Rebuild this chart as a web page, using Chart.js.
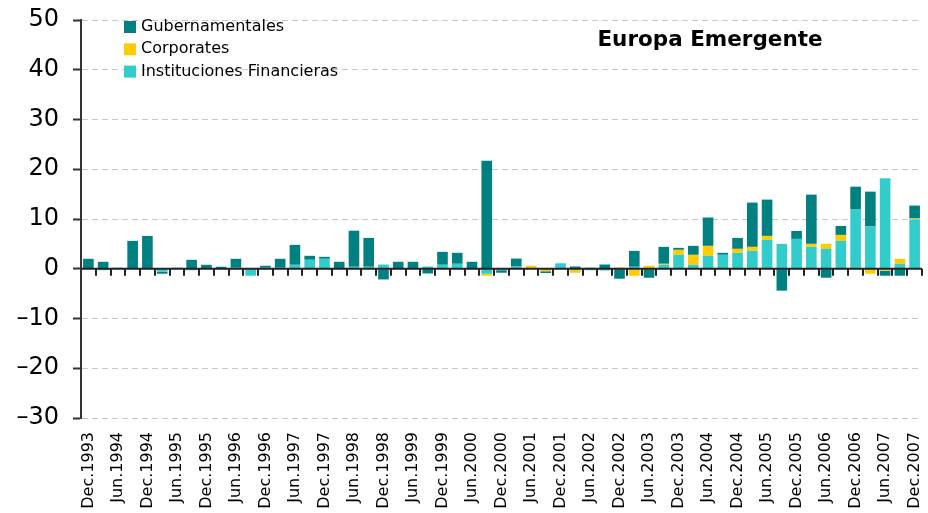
<!DOCTYPE html>
<html>
<head>
<meta charset="utf-8">
<script src="https://cdn.jsdelivr.net/npm/chart.js@4.4.1/dist/chart.umd.min.js"></script>
<style>
  html, body { margin: 0; padding: 0; background: #fff; }
  #wrap { width: 928px; height: 513px; }
</style>
</head>
<body>
<div id="wrap"><canvas id="chart" width="928" height="513"></canvas></div>
<script>
// trimestres (se rotula uno de cada dos)
const categories = [
  "Dec.1993",
  "Mar.1994", "Jun.1994", "Sep.1994", "Dec.1994",
  "Mar.1995", "Jun.1995", "Sep.1995", "Dec.1995",
  "Mar.1996", "Jun.1996", "Sep.1996", "Dec.1996",
  "Mar.1997", "Jun.1997", "Sep.1997", "Dec.1997",
  "Mar.1998", "Jun.1998", "Sep.1998", "Dec.1998",
  "Mar.1999", "Jun.1999", "Sep.1999", "Dec.1999",
  "Mar.2000", "Jun.2000", "Sep.2000", "Dec.2000",
  "Mar.2001", "Jun.2001", "Sep.2001", "Dec.2001",
  "Mar.2002", "Jun.2002", "Sep.2002", "Dec.2002",
  "Mar.2003", "Jun.2003", "Sep.2003", "Dec.2003",
  "Mar.2004", "Jun.2004", "Sep.2004", "Dec.2004",
  "Mar.2005", "Jun.2005", "Sep.2005", "Dec.2005",
  "Mar.2006", "Jun.2006", "Sep.2006", "Dec.2006",
  "Mar.2007", "Jun.2007", "Sep.2007", "Dec.2007"
];

const gubernamentales = [
  2.0, 1.4, 0.2, 5.6, 6.6, -0.4, 0.2, 1.8, 0.8, 0.4,
  1.8, 0, 0.4, 1.8, 4.0, 0.8, 0.4, 1.4, 7.25, 5.8,
  -2.15, 1.4, 1.4, -0.95, 2.6, 2.2, 1.4, 21.7, -0.5, 1.6,
  0, -0.35, 0, 0.45, 0.2, 0.85, -2.0, 3.2, -1.8, 3.4,
  0.4, 1.8, 5.7, 0.4, 2.2, 8.9, 7.3, -4.4, 1.6, 9.9,
  -1.8, 1.8, 4.6, 7.0, -1.0, -1.4, 2.6
];
const corporates = [
  0, 0, 0, 0, 0, 0, 0, 0, 0, 0,
  0, 0, 0, 0, 0, 0, 0, 0, 0, 0,
  0, 0, 0, 0, 0, 0, 0, -0.4, 0, 0,
  0.6, -0.5, 0, -0.6, 0, 0, 0.25, -1.4, 0.6, 0.2,
  1.0, 2.0, 2.0, 0, 0.8, 0.8, 0.8, 0, 0, 0.6,
  1.0, 1.2, 0, -1.0, -0.4, 1.0, 0.2
];
const financieras = [
  0, -0.3, 0, 0, 0, -0.6, 0, -0.3, 0, 0,
  0.2, -1.4, 0.2, 0.2, 0.8, 1.8, 2.0, 0, 0.4, 0.4,
  0.85, 0, 0, 0.45, 0.8, 1.0, 0, -1.0, -0.3, 0.45,
  0, 0, 1.1, -0.2, -0.3, -0.35, 0, 0.4, 0, 0.8,
  2.8, 0.8, 2.6, 2.8, 3.2, 3.6, 5.8, 5.0, 6.0, 4.4,
  4.0, 5.6, 11.9, 8.5, 18.2, 1.0, 9.9
];

const yMin = -30;
const yMax = 50;
const yStep = 10;

const FONT = "'DejaVu Sans', Verdana, sans-serif";

// linea del cero y marcas entre categorias
const zeroAxis = {
  id: "zeroAxis",
  afterDatasetsDraw(chart) {
    const { ctx, chartArea, scales } = chart;
    const y0 = scales.y.getPixelForValue(0);
    const x = scales.x;
    const half = (x.getPixelForValue(1) - x.getPixelForValue(0)) / 2;
    ctx.save();
    ctx.strokeStyle = "#222";
    ctx.lineWidth = 2;
    ctx.beginPath();
    ctx.moveTo(chartArea.left, y0);
    ctx.lineTo(chartArea.right, y0);
    for (let i = 0; i < categories.length; i++) {
      const px = Math.round(x.getPixelForValue(i) + half);
      ctx.moveTo(px, y0);
      ctx.lineTo(px, y0 + 7);
    }
    ctx.stroke();
    ctx.restore();
  },
};

// leyenda y titulo dentro del grafico
const overlay = {
  id: "overlay",
  afterDraw(chart) {
    const { ctx } = chart;
    ctx.save();
    const items = [2, 1, 0].map((i) => chart.data.datasets[i]);
    ctx.font = "16px " + FONT;
    ctx.textBaseline = "middle";
    ctx.textAlign = "left";
    items.forEach((ds, k) => {
      const yc = 27 + k * 22.3;
      ctx.fillStyle = ds.backgroundColor;
      ctx.fillRect(124, yc - 6, 12, 12);
      ctx.fillStyle = "#000";
      ctx.fillText(ds.label, 141, yc);
    });
    ctx.font = "bold 21.5px " + FONT;
    ctx.textAlign = "center";
    ctx.fillText("Europa Emergente", 710, 40);
    ctx.restore();
  },
};

new Chart(document.getElementById("chart"), {
  type: "bar",
  data: {
    labels: categories,
    datasets: [
      { label: "Instituciones Financieras", data: financieras, backgroundColor: "#33CCCC" },
      { label: "Corporates", data: corporates, backgroundColor: "#FFCC00" },
      { label: "Gubernamentales", data: gubernamentales, backgroundColor: "#008080" },
    ],
  },
  options: {
    responsive: false,
    animation: false,
    layout: { padding: { left: 0, right: 6, top: 20, bottom: 0 } },
    datasets: { bar: { barPercentage: 0.72, categoryPercentage: 1 } },
    plugins: {
      legend: { display: false },
      tooltip: { enabled: false },
    },
    scales: {
      x: {
        stacked: true,
        grid: { display: false, drawTicks: false },
        border: { display: false },
        ticks: {
          autoSkip: false,
          minRotation: 90,
          maxRotation: 90,
          padding: 14,
          color: "#000",
          font: { family: FONT, size: 16 },
          callback: (v, i) => (i % 2 === 0 ? categories[i] : ""),
        },
        afterFit(scale) {
          scale.height = 95;
          scale.paddingLeft = 0;
          scale.paddingRight = 0;
        },
      },
      y: {
        stacked: true,
        min: yMin,
        max: yMax,
        ticks: {
          stepSize: yStep,
          padding: 14,
          color: "#000",
          font: { family: FONT, size: 24 },
          callback: (v) => (v < 0 ? "\u2013" + Math.abs(v) : String(v)),
        },
        grid: {
          color: "#c8c8c8",
          lineWidth: 1,
          tickLength: 8,
          tickColor: "#333",
          tickWidth: 2,
        },
        border: { display: true, color: "#333", width: 2, dash: [6, 4] },
        afterFit(scale) {
          scale.width = 81;
          scale.paddingTop = 0;
          scale.paddingBottom = 0;
        },
      },
    },
  },
  plugins: [zeroAxis, overlay],
});
</script>
</body>
</html>
